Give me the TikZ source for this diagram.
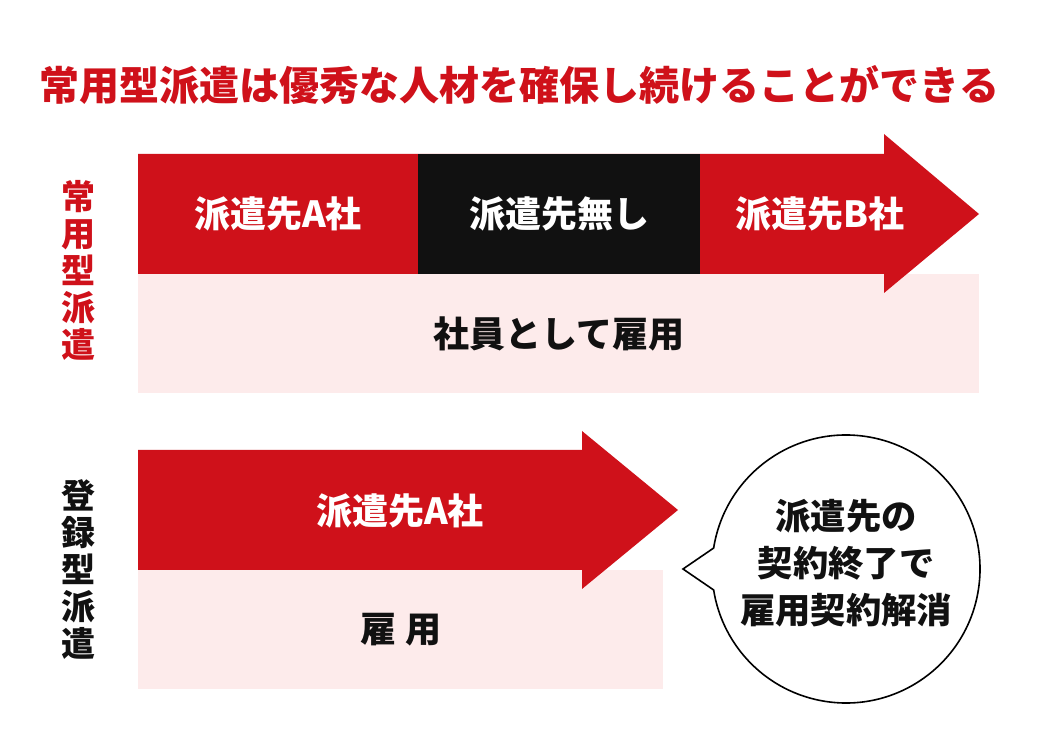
\documentclass[tikz,border=0pt]{standalone}
\usepackage{fontspec}
\setmainfont{Noto Sans CJK JP}
\definecolor{dred}{HTML}{CF111A}
\definecolor{dblack}{HTML}{111111}
\definecolor{lpink}{HTML}{FDEBEB}
\begin{document}
\begin{tikzpicture}[x=0.75pt,y=-0.75pt,
  lbl/.style={font=\bfseries\fontsize{27}{30}\selectfont, inner sep=0pt},
  wlbl/.style={lbl, text=white},
  klbl/.style={lbl, text=dblack},
  side/.style={font=\bfseries\fontsize{25.5}{27.75}\selectfont, align=center, inner sep=0pt}]
\useasboundingbox[fill=white] (0,0) rectangle (1040,748);
% title
\node[font=\bfseries\fontsize{30}{32}\selectfont, text=dred, inner sep=0pt] (title) at (519.5,85) {常用型派遣は優秀な人材を確保し続けることができる};
% side labels
\node[side, text=dred] (s1) at (78,270) {常\\用\\型\\派\\遣};
\node[side, text=dblack] (s2) at (78,570) {登\\録\\型\\派\\遣};
% top block
\fill[lpink] (138,274) rectangle (979,393);
\fill[dred] (138,154) -- (884,154) -- (884,134) -- (979,214) -- (884,293) -- (884,274) -- (138,274) -- cycle;
\fill[dblack] (418,154) rectangle (700,274);
\node[wlbl] (a1) at (278,214) {派遣先A社};
\node[wlbl] (n1) at (559,214) {派遣先無し};
\node[wlbl] (b1) at (820,214) {派遣先B社};
\node[klbl] (e1) at (559,334) {社員として雇用};
% bottom block
\fill[lpink] (138,570) rectangle (663,689);
\fill[dred] (138,450) -- (582,450) -- (582,431) -- (678,510) -- (582,589) -- (582,570) -- (138,570) -- cycle;
\node[wlbl] (a2) at (400,511) {派遣先A社};
\node[klbl] (e2) at (401,630) {雇 用};
% bubble
\draw[fill=white, draw=black, line width=1.2pt, line join=miter]
  (713.65,548.04) arc[start angle=171, end angle=-171, radius=100.5pt] -- (683,569) -- cycle;
\node[font=\bfseries\fontsize{26.5}{35.25}\selectfont, text=dblack, align=center, inner sep=0pt] (bub) at (846,563) {派遣先の\\契約終了で\\雇用契約解消};
\end{tikzpicture}
\end{document}
